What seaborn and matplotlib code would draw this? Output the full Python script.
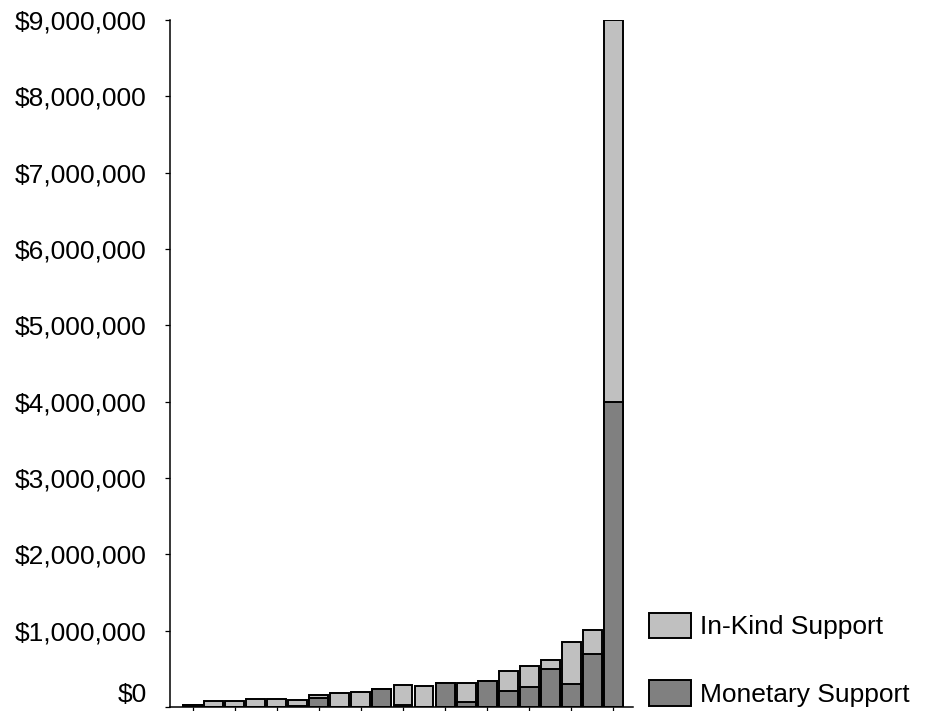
import matplotlib
matplotlib.use("Agg")
import matplotlib.pyplot as plt
from matplotlib.patches import Patch
from matplotlib.ticker import FuncFormatter, FixedLocator
import numpy as np
import pandas as pd
import seaborn as sns

# ---- data ----
categories = [str(i) for i in range(1, 22)]
monetary = [25000, 0, 0, 0, 0, 15000, 120000, 0, 0, 230000, 25000, 0,
            315000, 70000, 337000, 205000, 258000, 498000, 306000, 690000, 4000000]
in_kind = [0, 75000, 75000, 100000, 100000, 75000, 40000, 180000, 200000, 0,
           265000, 280000, 0, 240000, 0, 262000, 284000, 122000, 551000, 318000, 5000000]
series_labels = ["In-Kind Support", "Monetary Support"]
y_ticks = [0, 1000000, 2000000, 3000000, 4000000, 5000000, 6000000, 7000000, 8000000, 9000000]

LIGHT = "#C0C0C0"
DARK = "#808080"
EDGE_LW = 1.4

df = pd.DataFrame({"category": categories,
                   "monetary": monetary,
                   "in_kind": in_kind})
df["total"] = df["monetary"] + df["in_kind"]

sns.set_theme(style="white")
plt.rcParams["font.family"] = ["Liberation Sans", "DejaVu Sans"]
plt.rcParams["font.size"] = 19
plt.rcParams["text.color"] = "black"
plt.rcParams["axes.labelcolor"] = "black"
plt.rcParams["xtick.color"] = "black"
plt.rcParams["ytick.color"] = "black"

fig = plt.figure(figsize=(9.27, 7.11), dpi=100)
ax = fig.add_axes([170 / 927, 4 / 711, 463 / 927, 687 / 711])

sns.barplot(data=df, x="category", y="total", color=LIGHT, saturation=1,
            edgecolor="black", linewidth=EDGE_LW, width=0.9, ax=ax)
sns.barplot(data=df, x="category", y="monetary", color=DARK, saturation=1,
            edgecolor="black", linewidth=EDGE_LW, width=0.9, ax=ax)

ax.set_ylim(0, 9000000)
ax.set_xlim(-1.07, 20.93)
ax.set_xlabel("")
ax.set_ylabel("")


def money(v, p):
    if v == 0:
        return ""
    return f"${v:,.0f}"


ax.yaxis.set_major_locator(FixedLocator(y_ticks))
ax.yaxis.set_major_formatter(FuncFormatter(money))
ax.set_xticks(range(0, len(categories), 2))
ax.set_xticklabels([])

for s in ["top", "right"]:
    ax.spines[s].set_visible(False)
for s in ["left", "bottom"]:
    ax.spines[s].set_color("black")
    ax.spines[s].set_linewidth(1.1)

ax.tick_params(axis="both", direction="out", length=3.6, width=0.9,
               color="black", bottom=True, left=True)
ax.tick_params(axis="y", labelsize=19, pad=13, labelcolor="black")

# the "$0" label sits a little above its tick so that it stays inside the image
ax.annotate(f"${y_ticks[0]:,.0f}", xy=(0, y_ticks[0]),
            xycoords=("axes fraction", "data"),
            xytext=(-16.6, 10.5), textcoords="offset points",
            ha="right", va="center_baseline", fontsize=19, color="black")

handles = [Patch(facecolor=LIGHT, edgecolor="black", linewidth=EDGE_LW),
           Patch(facecolor=DARK, edgecolor="black", linewidth=EDGE_LW)]
fig.legend(handles, series_labels, loc="lower left",
           bbox_to_anchor=(649 / 927, 4 / 711), bbox_transform=fig.transFigure,
           frameon=False, borderpad=0, borderaxespad=0, fontsize=19,
           handlelength=1.59, handleheight=1.1, handletextpad=0.34,
           labelspacing=1.55)

fig.savefig("out.png", dpi=100, facecolor="white")
